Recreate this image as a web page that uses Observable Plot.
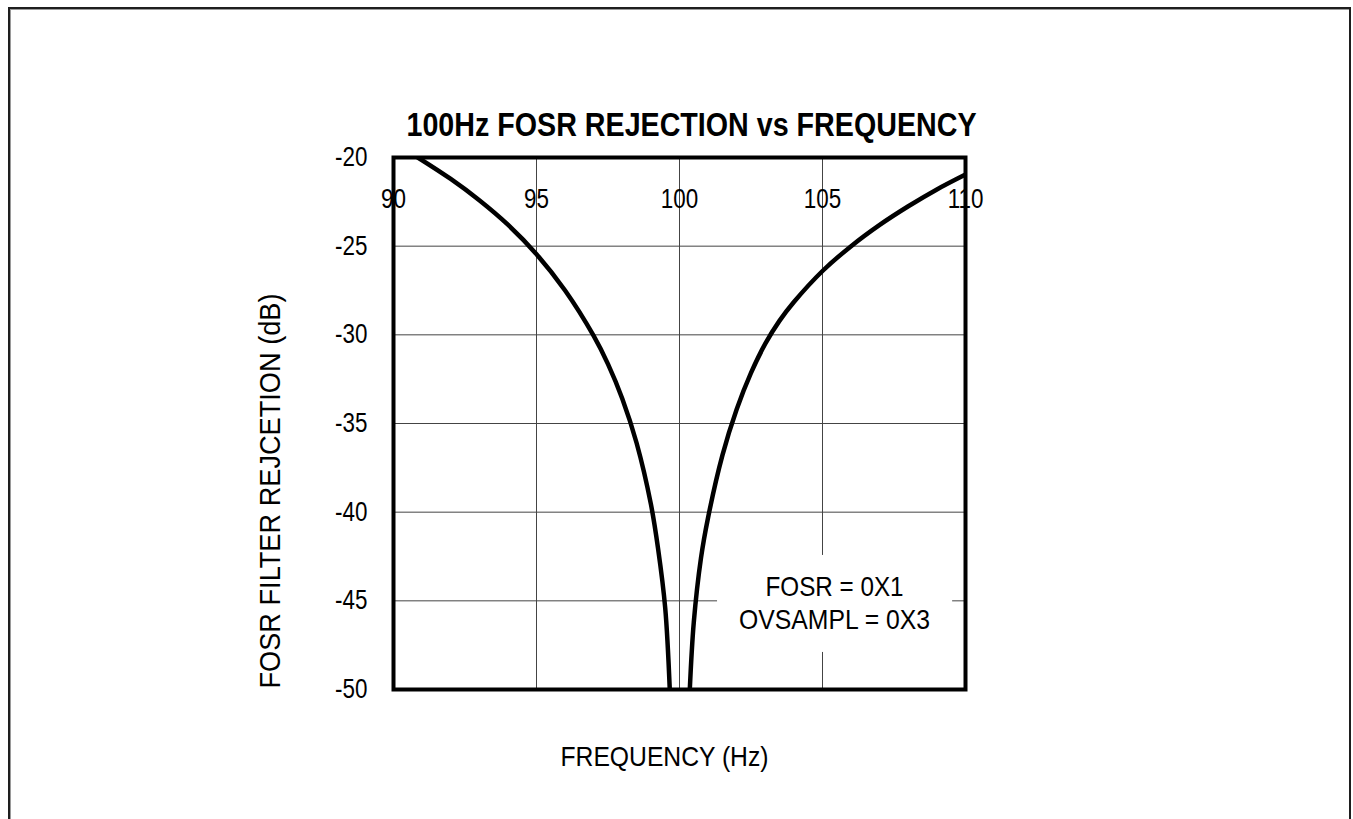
<!DOCTYPE html>
<html><head><meta charset="utf-8">
<script src="https://cdn.jsdelivr.net/npm/d3@7"></script>
<script src="https://cdn.jsdelivr.net/npm/@observablehq/plot@0.6"></script>
<style>
body{margin:0;background:#fff;}
#wrap{position:relative;width:1353px;height:819px;overflow:hidden;background:#fff;}
#wrap svg{position:absolute;left:0;top:0;}
#border{position:absolute;left:8px;top:7px;width:1343px;height:900px;border:2px solid #1e1e1e;border-bottom:none;box-sizing:border-box;box-shadow:inset 1px 1px 0 #9a9a9a;pointer-events:none;}
</style></head><body><div id="wrap"><div id="border"></div></div>
<script>
// ---- data ----
const titleText = "100Hz FOSR REJECTION vs FREQUENCY";
const xLabel = "FREQUENCY (Hz)";
const yLabel = "FOSR FILTER REJCETION (dB)";
const xTicks = [90, 95, 100, 105, 110];
const yTicks = [-20, -25, -30, -35, -40, -45, -50];
const xGrid = [95, 100, 105];
const yGrid = [-25, -30, -35, -40, -45];
// left branch (below the 100 Hz notch)
const leftFreq = [90.85, 92, 93, 94, 95, 96, 97, 97.5, 98, 98.5, 99, 99.25, 99.5, 99.66];
const leftDb   = [-20, -21.21, -22.41, -23.79, -25.45, -27.5, -30.06, -31.65, -33.6, -36.1, -39.55, -42.05, -45.4, -50];
// right branch (above the notch)
const rightFreq = [100.36, 100.5, 100.75, 101, 101.5, 102, 102.5, 103, 103.5, 104, 105, 106, 107, 108, 109, 110];
const rightDb   = [-50, -46.2, -42.6, -40.3, -36.8, -34.2, -32.15, -30.5, -29.2, -28.15, -26.4, -25.0, -23.8, -22.75, -21.8, -20.96];
const annotationLines = ["FOSR = 0X1", "OVSAMPL = 0X3"];
const annotationAt = {f: 105.42, db: [-44.2, -46.1]};
const annotationBox = [{x1: 101.33, x2: 109.55, y1: -42.44, y2: -47.91}];

// ---- build ----
const left = leftFreq.map((f, i) => ({f, db: leftDb[i]}));
const right = rightFreq.map((f, i) => ({f, db: rightDb[i]}));
const notes = annotationLines.map((t, i) => ({f: annotationAt.f, db: annotationAt.db[i], t}));
const FONT = '"Liberation Sans", Arial, sans-serif';

const chart = Plot.plot({
  width: 1353, height: 819,
  marginLeft: 393, marginRight: 388, marginTop: 157, marginBottom: 130,
  style: {fontFamily: FONT, background: "transparent", color: "#000", overflow: "visible"},
  x: {domain: [90, 110], axis: null},
  y: {domain: [-50, -20], axis: null},
  marks: [
    Plot.gridX(xGrid, {stroke: "#444", strokeOpacity: 1, strokeWidth: 1}),
    Plot.gridY(yGrid, {stroke: "#444", strokeOpacity: 1, strokeWidth: 1}),
    Plot.rect(annotationBox, {x1: "x1", x2: "x2", y1: "y1", y2: "y2", fill: "white"}),
    Plot.line(left, {x: "f", y: "db", curve: "catmull-rom", stroke: "#000", strokeWidth: 4.5, clip: true}),
    Plot.line(right, {x: "f", y: "db", curve: "catmull-rom", stroke: "#000", strokeWidth: 4.5, clip: true}),
    Plot.frame({stroke: "#000", strokeWidth: 4}),
    Plot.axisY(yTicks, {tickSize: 0, tickPadding: 26, fontSize: 27, label: null, fill: "#000", tickFormat: d => String(d)}),
    Plot.text(xTicks, {x: d => d, text: d => String(d), frameAnchor: "top", dy: 31, fontSize: 27, fill: "#000"}),
    Plot.text([titleText], {text: d => d, frameAnchor: "top", lineAnchor: "bottom", dx: 12, dy: -22, fontSize: 33, fontWeight: "bold", fill: "#000"}),
    Plot.text([yLabel], {text: d => d, frameAnchor: "bottom-left", rotate: -90, textAnchor: "start", dx: -114, dy: -1, fontSize: 30, fill: "#000"}),
    Plot.text([xLabel], {text: d => d, frameAnchor: "bottom", dx: -15, dy: 76, fontSize: 28, fill: "#000"}),
    Plot.text(notes, {x: "f", y: "db", text: "t", fontSize: 28, fill: "#000"})
  ]
});
document.getElementById("wrap").prepend(chart);

// condense text like the narrow face of the original
const fixedWidths = new Map([[titleText, 570], [yLabel, 395], [xLabel, 208], ["FOSR = 0X1", 138], ["OVSAMPL = 0X3", 191]]);
d3.select(chart).selectAll("text").each(function() {
  const t = this.textContent;
  const w = this.getComputedTextLength();
  const target = fixedWidths.has(t) ? fixedWidths.get(t) : w * 0.83;
  this.setAttribute("textLength", target);
  this.setAttribute("lengthAdjust", "spacingAndGlyphs");
});
</script>
</body></html>
